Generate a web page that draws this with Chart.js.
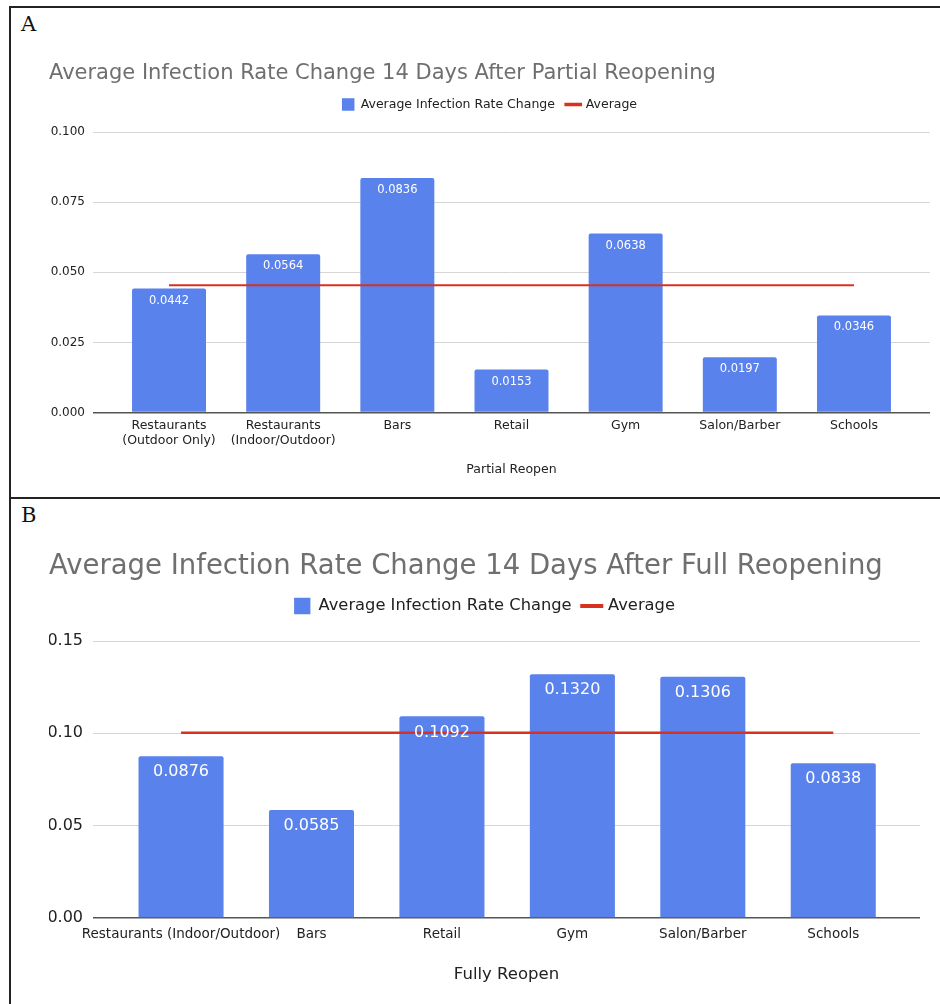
<!DOCTYPE html>
<html>
<head>
<meta charset="utf-8">
<script src="https://cdn.jsdelivr.net/npm/chart.js@4.4.1/dist/chart.umd.min.js"></script>
<style>
    html, body { margin: 0; padding: 0; width: 940px; height: 1004px; overflow: hidden; background: #fff; }
    .panel { position: absolute; border: 2px solid #222; box-sizing: border-box; }
    .letra { position: absolute; font-family: 'DejaVu Serif', serif; font-size: 21px; line-height: 21px; color: #111; }
    canvas { position: absolute; }
</style>
</head>
<body>
<div class="panel" style="left:9px; top:6px; width:980px; height:493px;"></div>
<div class="panel" style="left:9px; top:497px; width:980px; height:560px;"></div>
<div class="letra" style="left:21px; top:14px;">A</div>
<div class="letra" style="left:21px; top:505px;">B</div>
<canvas id="graficoA" width="881" height="450" style="left:49px; top:40px; width:881px; height:450px;"></canvas>
<canvas id="graficoB" width="871" height="470" style="left:49px; top:530px; width:871px; height:470px;"></canvas>
<script>
// Panel A: reapertura parcial
const categoriasA = [
    ['Restaurants', '(Outdoor Only)'],
    ['Restaurants', '(Indoor/Outdoor)'],
    'Bars', 'Retail', 'Gym', 'Salon/Barber', 'Schools'
];
const valoresA = [0.0442, 0.0564, 0.0836, 0.0153, 0.0638, 0.0197, 0.0346];
const promedioA = [0.0454, 0.0454, 0.0454, 0.0454, 0.0454, 0.0454, 0.0454];
const ejeYA = { max: 0.1, paso: 0.025, decimales: 3 };

// Panel B: reapertura completa
const categoriasB = ['Restaurants (Indoor/Outdoor)', 'Bars', 'Retail', 'Gym', 'Salon/Barber', 'Schools'];
const valoresB = [0.0876, 0.0585, 0.1092, 0.1320, 0.1306, 0.0838];
const promedioB = [0.1003, 0.1003, 0.1003, 0.1003, 0.1003, 0.1003];
const ejeYB = { max: 0.15, paso: 0.05, decimales: 2 };

const AZUL = '#5a82ec';
const ROJO = '#d8321f';
const FUENTE = "'DejaVu Sans', sans-serif";

// etiquetas blancas dentro de cada barra
const etiquetasBarras = {
    id: 'etiquetasBarras',
    afterDatasetsDraw(chart, args, opts) {
        const ctx = chart.ctx;
        const meta = chart.getDatasetMeta(0);
        ctx.save();
        ctx.font = opts.size + 'px ' + FUENTE;
        ctx.fillStyle = '#fff';
        ctx.textAlign = 'center';
        ctx.textBaseline = 'middle';
        meta.data.forEach((barra, i) => {
            ctx.fillText(opts.valores[i].toFixed(4), barra.x, barra.y + opts.desplazamiento);
        });
        ctx.restore();
    }
};

// espacio extra debajo de la leyenda
const margenLeyenda = {
    id: 'margenLeyenda',
    beforeInit(chart, args, opts) {
        const fitOriginal = chart.legend.fit;
        chart.legend.fit = function() {
            fitOriginal.bind(chart.legend)();
            this.height += opts.extra;
        };
    }
};

function crearGrafico(id, c) {
    const ctx = document.getElementById(id).getContext('2d');
    return new Chart(ctx, {
        type: 'bar',
        data: {
            datasets: [{
                type: 'bar',
                label: 'Average Infection Rate Change',
                data: c.valores.map((v, i) => ({ x: i, y: v })),
                backgroundColor: AZUL,
                borderRadius: 2,
                categoryPercentage: 0.8,
                barPercentage: c.barPct,
                pointStyle: 'rect',
                order: 1
            }, {
                type: 'line',
                label: 'Average',
                data: c.promedio.map((v, i) => ({ x: i, y: v })),
                borderColor: ROJO,
                backgroundColor: ROJO,
                borderWidth: c.grosorLinea,
                pointRadius: 0,
                pointStyle: 'line',
                tension: 0,
                order: 0
            }]
        },
        options: {
            responsive: false,
            animation: false,
            layout: { padding: { top: 0, left: 0, right: 0, bottom: c.padAbajo } },
            plugins: {
                title: {
                    display: true,
                    text: c.titulo,
                    align: 'start',
                    color: '#6f6f6f',
                    font: { family: FUENTE, size: c.tamTitulo, weight: 'normal' },
                    padding: c.padTitulo
                },
                legend: {
                    display: true,
                    position: 'top',
                    labels: {
                        usePointStyle: true,
                        color: '#222',
                        font: { family: FUENTE, size: c.tamLeyenda },
                        padding: 12,
                        sort: (a, b) => a.datasetIndex - b.datasetIndex,
                        generateLabels: (chart) => {
                            const items = Chart.defaults.plugins.legend.labels.generateLabels(chart);
                            items.forEach(it => { if (it.datasetIndex === 1) it.lineWidth = c.grosorLinea + 1.5; });
                            return items;
                        }
                    }
                },
                margenLeyenda: { extra: c.extraLeyenda },
                tooltip: { enabled: false },
                etiquetasBarras: { valores: c.valores, size: c.tamEtiqueta, desplazamiento: c.despEtiqueta }
            },
            scales: {
                x: {
                    type: 'linear',
                    offset: false,
                    min: c.xMin,
                    max: c.xMax,
                    grid: { display: false, offset: false, drawTicks: false },
                    border: { display: false },
                    ticks: {
                        stepSize: 1,
                        includeBounds: false,
                        autoSkip: false,
                        maxRotation: 0,
                        minRotation: 0,
                        padding: c.padTicksX,
                        color: '#222',
                        font: { family: FUENTE, size: c.tamTicksX },
                        callback: (v) => Number.isInteger(v) && c.categorias[v] !== undefined ? c.categorias[v] : ''
                    },
                    title: {
                        display: true,
                        text: c.tituloX,
                        color: '#222',
                        font: { family: FUENTE, size: c.tamTituloX },
                        padding: { top: c.padTituloX, bottom: 0 }
                    }
                },
                y: {
                    min: 0,
                    max: c.eje.max,
                    border: { display: false },
                    grid: {
                        drawTicks: false,
                        color: (g) => g.tick && g.tick.value === 0 ? '#555' : '#d6d6d6',
                        lineWidth: (g) => g.tick && g.tick.value === 0 ? 1.5 : 1
                    },
                    ticks: {
                        stepSize: c.eje.paso,
                        padding: c.padTicksY,
                        color: '#222',
                        font: { family: FUENTE, size: c.tamTicksY },
                        callback: (v) => v.toFixed(c.eje.decimales)
                    },
                    afterFit: (scale) => { scale.width = 44; }
                }
            }
        },
        plugins: [etiquetasBarras, margenLeyenda]
    });
}

crearGrafico('graficoA', {
    titulo: 'Average Infection Rate Change 14 Days After Partial Reopening',
    tituloX: 'Partial Reopen',
    categorias: categoriasA,
    valores: valoresA,
    promedio: promedioA,
    eje: ejeYA,
    xMin: -0.666, xMax: 6.666,
    barPct: 0.81,
    grosorLinea: 2,
    tamTitulo: 21, padTitulo: { top: 21, bottom: 0 },
    tamLeyenda: 12.5, extraLeyenda: 11.3,
    tamTicksX: 12.5, padTicksX: 5.5,
    tamTituloX: 12.5, padTituloX: 9,
    tamTicksY: 12, padTicksY: 8,
    tamEtiqueta: 11.5, despEtiqueta: 12,
    padAbajo: 12.5
});

crearGrafico('graficoB', {
    titulo: 'Average Infection Rate Change 14 Days After Full Reopening',
    tituloX: 'Fully Reopen',
    categorias: categoriasB,
    valores: valoresB,
    promedio: promedioB,
    eje: ejeYB,
    xMin: -0.675, xMax: 5.665,
    barPct: 0.815,
    grosorLinea: 2.5,
    tamTitulo: 27.5, padTitulo: { top: 20, bottom: 2.85 },
    tamLeyenda: 16.3, extraLeyenda: 16.85,
    tamTicksX: 13.5, padTicksX: 8,
    tamTituloX: 16.5, padTituloX: 15,
    tamTicksY: 16, padTicksY: 10,
    tamEtiqueta: 16, despEtiqueta: 16,
    padAbajo: 15
});
</script>
</body>
</html>
